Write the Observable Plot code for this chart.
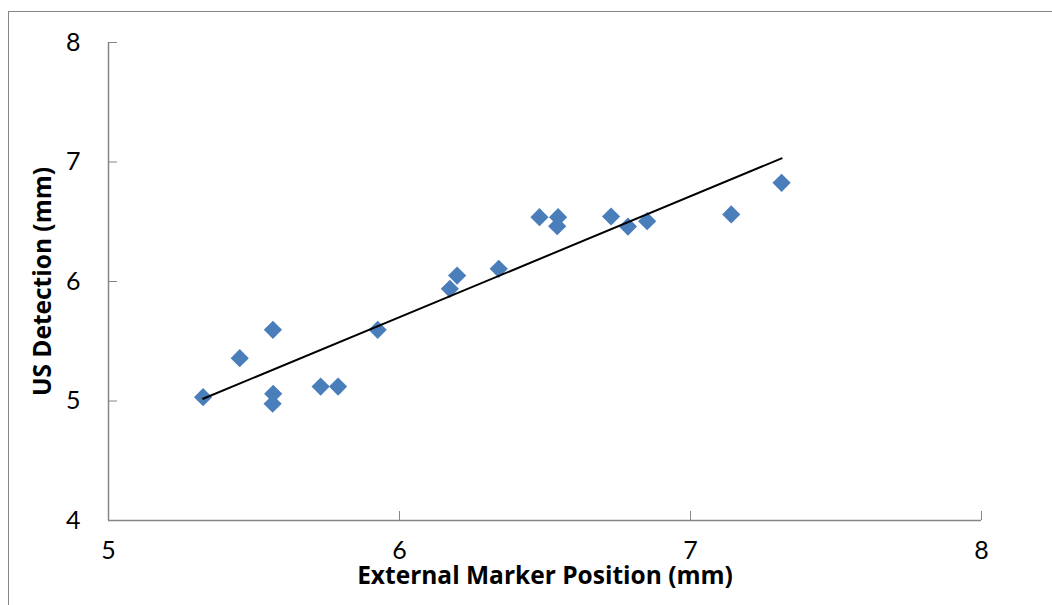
<!DOCTYPE html>
<html>
<head>
<meta charset="utf-8">
<script src="https://cdn.jsdelivr.net/npm/d3@7"></script>
<script src="https://cdn.jsdelivr.net/npm/@observablehq/plot@0.6"></script>
<style>
  html, body { margin: 0; padding: 0; background: #fff; }
  #wrap { position: relative; width: 1052px; height: 605px; overflow: hidden; }
  #border { position: absolute; left: 8px; top: 11px; right: -4px; bottom: -4px;
            border-left: 1.5px solid #868686; border-top: 1.5px solid #868686; pointer-events: none; }
</style>
</head>
<body>
<div id="wrap"><div id="border"></div></div>
<script>
// External marker position vs. ultrasound-detected position (mm)
const markerPosition = [5.325, 5.451, 5.565, 5.566, 5.564, 5.729, 5.789, 5.925, 6.173, 6.198,
                        6.341, 6.481, 6.545, 6.542, 6.727, 6.785, 6.851, 7.140, 7.313];
const usDetection    = [5.032, 5.358, 5.596, 5.060, 4.977, 5.121, 5.121, 5.596, 5.939, 6.050,
                        6.106, 6.538, 6.538, 6.463, 6.544, 6.460, 6.505, 6.561, 6.826];
const xTicks = [5, 6, 7, 8];
const yTicks = [4, 5, 6, 7, 8];
const xTitle = "External Marker Position (mm)";
const yTitle = "US Detection (mm)";

const points = markerPosition.map((x, i) => ({x, y: usDetection[i]}));

const axisGray = "#868686";
const tickFont = "Lato, 'Open Sans', sans-serif";
const titleFont = "'Open Sans', Lato, sans-serif";

const chart = Plot.plot({
  width: 1052,
  height: 605,
  marginLeft: 108,
  marginRight: 71,
  marginTop: 42,
  marginBottom: 85,
  style: {fontFamily: tickFont, background: "transparent", color: "#000"},
  x: {domain: [5, 8]},
  y: {domain: [4, 8]},
  marks: [
    Plot.axisX({ticks: xTicks, tickSize: -9, tickPadding: 30, stroke: axisGray, fill: "#000",
                fontSize: 25, label: null, tickFormat: d3.format("d")}),
    Plot.axisY({ticks: yTicks, tickSize: -9, tickPadding: 37, stroke: axisGray, fill: "#000",
                fontSize: 25, label: null, tickFormat: d3.format("d")}),
    Plot.ruleX([5], {stroke: axisGray, strokeWidth: 1.5}),
    Plot.ruleY([4], {stroke: axisGray, strokeWidth: 1.5}),
    Plot.dot(points, {x: "x", y: "y", symbol: "diamond2", r: 8.2, fill: "#4a7ebb", stroke: "none"}),
    Plot.linearRegressionY(points, {x: "x", y: "y", ci: 0, stroke: "#000", strokeWidth: 2}),
    Plot.text([xTitle], {frameAnchor: "bottom", textAnchor: "middle", lineAnchor: "bottom", dy: 63,
                         fontFamily: titleFont, fontSize: 24.5, fontWeight: "bold", fill: "#000"}),
    Plot.text([yTitle], {frameAnchor: "left", textAnchor: "middle", lineAnchor: "bottom", rotate: -90, dx: -58,
                         fontFamily: titleFont, fontSize: 24.5, fontWeight: "bold", fill: "#000"})
  ]
});

document.getElementById("wrap").prepend(chart);
</script>
</body>
</html>
